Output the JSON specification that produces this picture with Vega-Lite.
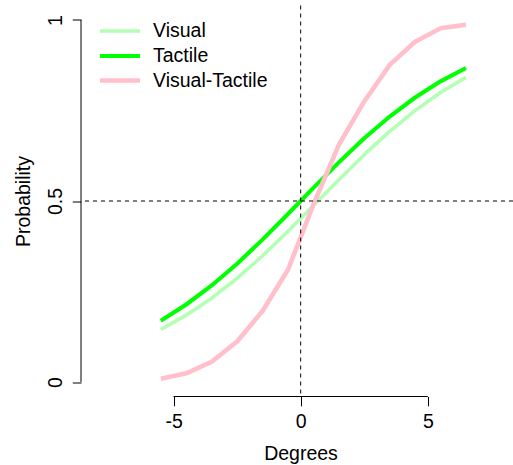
{
  "$schema": "https://vega.github.io/schema/vega-lite/v6.json",
  "autosize": "none",
  "width": 432,
  "height": 391,
  "padding": {"left": 81, "top": 5.5, "right": 0, "bottom": 68.5},
  "background": "white",
  "config": {
    "view": {"stroke": null},
    "font": "Liberation Sans"
  },
  "data": {
    "values": [
      {"x": -5.5, "p": 0.1452, "cond": "Visual"},
      {"x": -4.5, "p": 0.1846, "cond": "Visual"},
      {"x": -3.5, "p": 0.2317, "cond": "Visual"},
      {"x": -2.5, "p": 0.2867, "cond": "Visual"},
      {"x": -1.5, "p": 0.3488, "cond": "Visual"},
      {"x": -0.5, "p": 0.4164, "cond": "Visual"},
      {"x": 0.5, "p": 0.4874, "cond": "Visual"},
      {"x": 1.5, "p": 0.5589, "cond": "Visual"},
      {"x": 2.5, "p": 0.6279, "cond": "Visual"},
      {"x": 3.5, "p": 0.6922, "cond": "Visual"},
      {"x": 4.5, "p": 0.7497, "cond": "Visual"},
      {"x": 5.5, "p": 0.7997, "cond": "Visual"},
      {"x": 6.5, "p": 0.8418, "cond": "Visual"},
      {"x": -5.5, "p": 0.1695, "cond": "Tactile"},
      {"x": -4.5, "p": 0.2141, "cond": "Tactile"},
      {"x": -3.5, "p": 0.2667, "cond": "Tactile"},
      {"x": -2.5, "p": 0.3268, "cond": "Tactile"},
      {"x": -1.5, "p": 0.3933, "cond": "Tactile"},
      {"x": -0.5, "p": 0.4639, "cond": "Tactile"},
      {"x": 0.5, "p": 0.5361, "cond": "Tactile"},
      {"x": 1.5, "p": 0.6067, "cond": "Tactile"},
      {"x": 2.5, "p": 0.6732, "cond": "Tactile"},
      {"x": 3.5, "p": 0.7333, "cond": "Tactile"},
      {"x": 4.5, "p": 0.7859, "cond": "Tactile"},
      {"x": 5.5, "p": 0.8305, "cond": "Tactile"},
      {"x": 6.5, "p": 0.8675, "cond": "Tactile"},
      {"x": -5.5, "p": 0.009, "cond": "Visual-Tactile"},
      {"x": -4.5, "p": 0.024, "cond": "Visual-Tactile"},
      {"x": -3.5, "p": 0.056, "cond": "Visual-Tactile"},
      {"x": -2.5, "p": 0.112, "cond": "Visual-Tactile"},
      {"x": -1.5, "p": 0.196, "cond": "Visual-Tactile"},
      {"x": -0.5, "p": 0.31, "cond": "Visual-Tactile"},
      {"x": 0.5, "p": 0.49, "cond": "Visual-Tactile"},
      {"x": 1.5, "p": 0.655, "cond": "Visual-Tactile"},
      {"x": 2.5, "p": 0.775, "cond": "Visual-Tactile"},
      {"x": 3.5, "p": 0.876, "cond": "Visual-Tactile"},
      {"x": 4.5, "p": 0.94, "cond": "Visual-Tactile"},
      {"x": 5.5, "p": 0.977, "cond": "Visual-Tactile"},
      {"x": 6.5, "p": 0.987, "cond": "Visual-Tactile"}
    ]
  },
  "layer": [
    {
      "mark": {"type": "line", "strokeCap": "butt", "strokeJoin": "round"},
      "encoding": {
        "x": {
          "field": "x",
          "type": "quantitative",
          "scale": {"domain": [-8.64, 8.35], "nice": false, "zero": false},
          "axis": {
            "values": [-5, 0, 5],
            "labelExpr": "datum.value < 0 ? '-' + abs(datum.value) : '' + datum.value",
            "title": "Degrees",
            "domain": false,
            "grid": false,
            "ticks": true,
            "tickSize": 9.3,
            "tickWidth": 1,
            "tickColor": "black",
            "labelFont": "Liberation Sans",
            "labelFontSize": 19.5,
            "labelColor": "black",
            "labelPadding": 7,
            "labelBaseline": "top",
            "labelFlush": false,
            "labelOverlap": false,
            "titleFont": "Liberation Sans",
            "titleFontSize": 19.5,
            "titleFontWeight": "normal",
            "titleColor": "black",
            "titleX": 219.5,
            "titleY": 62.6,
            "titleAlign": "center",
            "titleBaseline": "alphabetic"
          }
        },
        "y": {
          "field": "p",
          "type": "quantitative",
          "scale": {"domain": [-0.04, 1.04], "nice": false, "zero": false},
          "axis": {
            "values": [0, 0.5, 1],
            "format": "~g",
            "title": "Probability",
            "domain": false,
            "grid": false,
            "ticks": true,
            "tickSize": 8.7,
            "tickWidth": 1,
            "tickColor": "black",
            "labelFont": "Liberation Sans",
            "labelFontSize": 19.5,
            "labelColor": "black",
            "labelAngle": 270,
            "labelAlign": "center",
            "labelBaseline": "alphabetic",
            "labelPadding": 10.6,
            "labelOverlap": false,
            "titleFont": "Liberation Sans",
            "titleFontSize": 19.5,
            "titleFontWeight": "normal",
            "titleColor": "black",
            "titleAngle": 270,
            "titleX": -51.5,
            "titleY": 195.5,
            "titleAlign": "center",
            "titleBaseline": "alphabetic"
          }
        },
        "color": {
          "field": "cond",
          "type": "nominal",
          "scale": {"domain": ["Visual", "Tactile", "Visual-Tactile"], "range": ["#b3ffb3", "#00ff00", "#ffc0cb"]},
          "legend": {
            "orient": "none",
            "legendX": 26.5,
            "legendY": 13.5,
            "title": null,
            "symbolType": "M-2,0H2",
            "symbolSize": 400,
            "symbolStrokeWidth": 4,
            "labelFont": "Liberation Sans",
            "labelFontSize": 19.5,
            "labelColor": "black",
            "labelOffset": 20.5,
            "rowPadding": 2.5
          }
        },
        "strokeWidth": {
          "field": "cond",
          "type": "nominal",
          "scale": {"domain": ["Visual", "Tactile", "Visual-Tactile"], "range": [3.6, 4.6, 3.6]},
          "legend": null
        },
        "order": {"field": "x", "type": "quantitative"}
      }
    },
    {
      "data": {"values": [{}]},
      "mark": {"type": "rule", "color": "black", "strokeWidth": 1, "strokeDash": [4, 4]},
      "encoding": {"x": {"datum": 0, "type": "quantitative"}}
    },
    {
      "data": {"values": [{}]},
      "mark": {"type": "rule", "color": "black", "strokeWidth": 1, "strokeDash": [4, 4]},
      "encoding": {"y": {"datum": 0.5, "type": "quantitative"}}
    },
    {
      "data": {"values": [{}]},
      "mark": {"type": "rule", "color": "black", "strokeWidth": 1},
      "encoding": {
        "x": {"datum": -5, "type": "quantitative"},
        "x2": {"datum": 5},
        "y": {"datum": -0.04, "type": "quantitative"}
      }
    },
    {
      "data": {"values": [{}]},
      "mark": {"type": "rule", "color": "black", "strokeWidth": 1},
      "encoding": {
        "x": {"datum": -8.64, "type": "quantitative"},
        "y": {"datum": 0, "type": "quantitative"},
        "y2": {"datum": 1}
      }
    }
  ]
}
